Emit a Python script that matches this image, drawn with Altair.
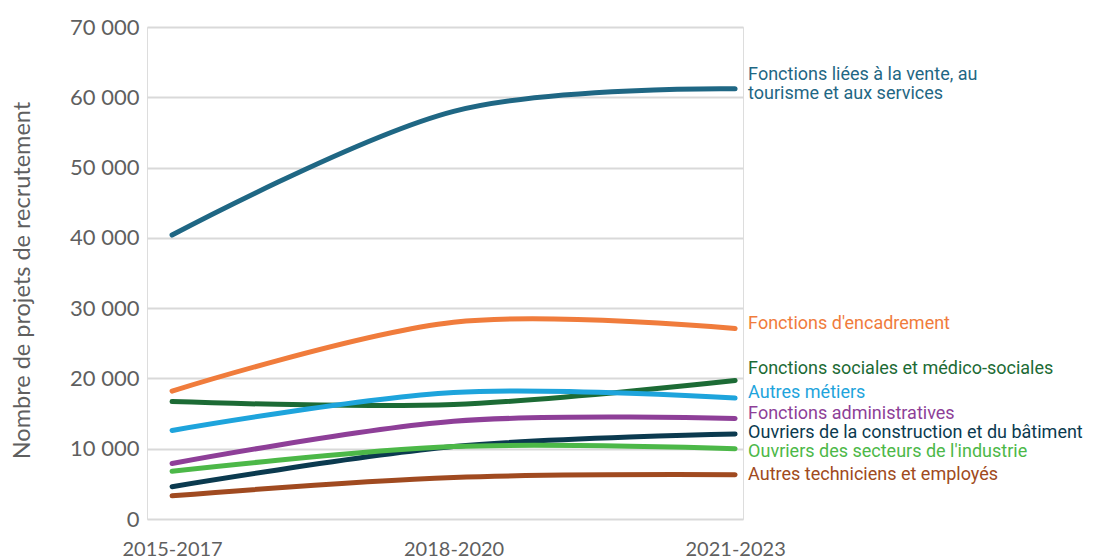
import altair as alt
import pandas as pd

# Periods on the horizontal axis
periods = ["2015-2017", "2018-2020", "2021-2023"]

# Recruitment projects per occupational family
vente = [40400, 58000, 61200]
encadrement = [18200, 28000, 27100]
sociales = [16700, 16300, 19700]
autres_metiers = [12600, 18000, 17200]
administratives = [7900, 13900, 14300]
construction = [4600, 10300, 12100]
industrie = [6800, 10300, 10000]
techniciens = [3300, 5900, 6300]

series_names = [
    "Fonctions liées à la vente, au\ntourisme et aux services",
    "Fonctions d'encadrement",
    "Fonctions sociales et médico-sociales",
    "Autres métiers",
    "Fonctions administratives",
    "Ouvriers de la construction et du bâtiment",
    "Ouvriers des secteurs de l'industrie",
    "Autres techniciens et employés",
]
series_values = [vente, encadrement, sociales, autres_metiers,
                 administratives, construction, industrie, techniciens]
series_colors = ["#1f6784", "#f07c3c", "#1c6b35", "#1ea4dc",
                 "#8e3f98", "#0b3a4f", "#4cb848", "#a04a20"]
# Vertical anchor of each end label (same units as the y axis)
label_anchor = [63100, 27700, 21300, 17900, 15000, 12300, 9500, 6300]

rows = []
for name, values in zip(series_names, series_values):
    for i, (p, v) in enumerate(zip(periods, values)):
        rows.append({"serie": name, "idx": i, "periode": p, "valeur": v})
df = pd.DataFrame(rows)

labels = pd.DataFrame({
    "serie": series_names,
    "idx": [len(periods) - 1] * len(series_names),
    "pos": label_anchor,
})

color_scale = alt.Scale(domain=series_names, range=series_colors)
x_scale = alt.Scale(domain=[-0.089, 2.028], nice=False, zero=False)
y_scale = alt.Scale(domain=[0, 70000], nice=False)

period_expr = "[" + ",".join(f"'{p}'" for p in periods) + "][datum.value]"

lines = alt.Chart(df).mark_line(
    interpolate="cardinal", strokeWidth=5, strokeCap="round"
).encode(
    x=alt.X("idx:Q", scale=x_scale,
            axis=alt.Axis(values=[0, 1, 2], labelExpr=period_expr, title=None,
                          grid=False, domain=False, ticks=False,
                          labelFont="Lato", labelFontSize=20,
                          labelColor="#5f5f5f", labelPadding=20,
                          labelFlush=False)),
    y=alt.Y("valeur:Q", scale=y_scale,
            axis=alt.Axis(values=list(range(0, 70001, 10000)),
                          labelExpr="replace(format(datum.value, ','), ',', ' ')",
                          title="Nombre de projets de recrutement",
                          titleFont="Lato", titleFontSize=23.5,
                          titleFontWeight="normal", titleColor="#5f5f5f",
                          titleX=-125, titleY=253, titleAngle=270,
                          titleAlign="center", titleBaseline="middle",
                          labelFont="Lato", labelFontSize=22,
                          labelColor="#5f5f5f", labelPadding=8,
                          domain=False, ticks=False,
                          grid=True, gridColor="#d9d9d9", gridWidth=2)),
    color=alt.Color("serie:N", scale=color_scale, legend=None),
    detail="serie:N",
)

end_labels = alt.Chart(labels).mark_text(
    align="left", baseline="middle", dx=13, font="Roboto",
    fontSize=18, lineBreak="\n", lineHeight=19
).encode(
    x=alt.X("idx:Q", scale=x_scale),
    y=alt.Y("pos:Q", scale=y_scale),
    text="serie:N",
    color=alt.Color("serie:N", scale=color_scale, legend=None),
)

chart = alt.layer(lines, end_labels).properties(
    width=596, height=492,
    autosize=alt.AutoSizeParams(type="none"),
    padding={"left": 147, "top": 27, "right": 355, "bottom": 41},
).configure_view(stroke=None).configure(background="white")

chart.save("out.html", embed_options={"renderer": "svg", "actions": False})
